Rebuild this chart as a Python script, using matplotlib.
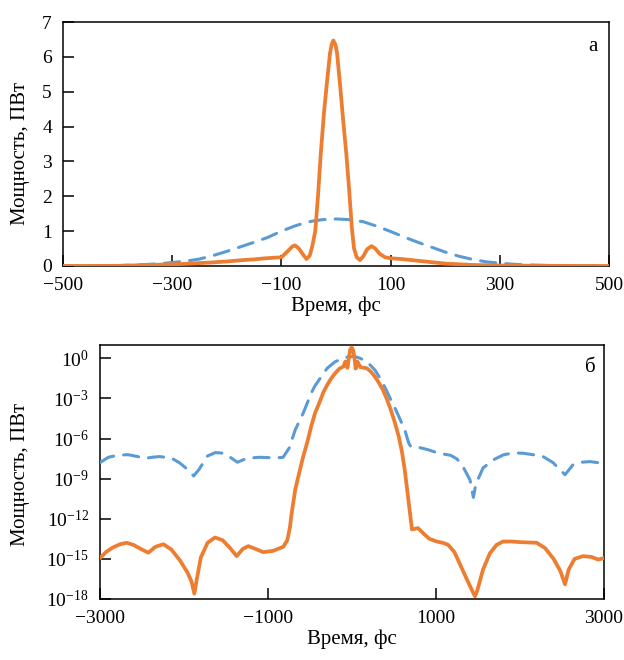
# two-panel pulse power plot: linear (a) and log (б) scale
import matplotlib
matplotlib.use("Agg")
import matplotlib.pyplot as plt
from matplotlib.ticker import NullLocator, FixedLocator

plt.rcParams['font.family'] = ['Liberation Serif', 'DejaVu Serif']
plt.rcParams['mathtext.fontset'] = 'custom'
plt.rcParams['mathtext.rm'] = 'Liberation Serif'
plt.rcParams['mathtext.it'] = 'Liberation Serif:italic'

orange = '#ED7D31'
blue = '#5B9BD5'

# panel a, linear scale (fs, PW)
t_lin_orange = [-500, -400, -340, -280, -230, -200, -170, -150, -130, -110, -100, -90,
                -80, -75, -68, -60, -54, -48, -43, -38, -33, -28, -22, -17, -11, -8,
                -5, -1, 2, 8, 13, 19, 24, 29, 33, 38, 44, 50, 57, 65, 72, 80, 90,
                100, 120, 150, 200, 250, 300, 400, 500]
p_lin_orange = [0, 0.005, 0.03, 0.06, 0.1, 0.13, 0.17, 0.19, 0.22, 0.24, 0.25, 0.4,
                0.56, 0.59, 0.5, 0.32, 0.2, 0.3, 0.6, 1.0, 2.0, 3.2, 4.4, 5.2, 6.1, 6.35,
                6.47, 6.35, 6.1, 5.1, 4.2, 3.2, 2.2, 1.1, 0.5, 0.25, 0.17, 0.28, 0.48,
                0.57, 0.5, 0.35, 0.25, 0.22, 0.2, 0.15, 0.07, 0.03, 0.015, 0.005, 0]

t_lin_blue = [-500, -450, -400, -350, -320, -300, -275, -250, -225, -200, -175, -150,
              -125, -100, -75, -50, -25, 0, 25, 50, 75, 100, 125, 150, 175, 200, 225,
              250, 275, 300, 325, 350, 400, 450, 500]
p_lin_blue = [0, 0.003, 0.01, 0.04, 0.07, 0.1, 0.14, 0.2, 0.3, 0.42, 0.55, 0.68,
              0.82, 1.0, 1.15, 1.27, 1.33, 1.35, 1.33, 1.27, 1.14, 0.99, 0.83, 0.68,
              0.54, 0.4, 0.28, 0.19, 0.12, 0.08, 0.05, 0.03, 0.01, 0.003, 0]

# panel б, log scale
t_log_orange = [-3000, -2930, -2850, -2760, -2683, -2600, -2500, -2425, -2340, -2246,
                -2150, -2050, -1960, -1910, -1877, -1850, -1800, -1720, -1631, -1540,
                -1450, -1373, -1300, -1234, -1150, -1056, -940, -818, -770, -738, -723,
                -676, -630, -581, -530, -486, -440, -391, -340, -296, -250, -201, -150,
                -100, -90, -78, -54, -38, -22, -5, 13, 29, 44, 65, 100, 178, 225, 273,
                320, 368, 415, 462, 510, 557, 595, 628, 676, 714, 750, 786, 850, 920,
                1008, 1080, 1143, 1220, 1300, 1380, 1440, 1464, 1490, 1560, 1640, 1720,
                1798, 1900, 2000, 2199, 2300, 2400, 2480, 2536, 2580, 2650, 2750, 2850,
                2930, 3000]
p_log_orange = [1.15e-15, 3.2e-15, 7e-15, 1.25e-14, 1.6e-14, 1.1e-14, 5e-15, 2.9e-15,
                8e-15, 1.25e-14, 5e-15, 8e-16, 1e-16, 2e-17, 2.5e-18, 2.5e-17, 1.25e-15,
                1.6e-14, 4e-14, 2.5e-14, 6.3e-15, 1.6e-15, 5.6e-15, 9e-15, 5.6e-15,
                3.2e-15, 4e-15, 8e-15, 2.5e-14, 2.5e-13, 1.6e-12, 1.5e-10, 2.5e-9, 4.5e-8,
                6e-7, 8e-6, 8e-5, 4.4e-4, 3e-3, 1e-2, 3e-2, 7.6e-2, 0.17, 0.25, 0.4, 0.58,
                0.2, 1.0, 4.4, 6.47, 4.2, 1.1, 0.17, 0.57, 0.22, 0.18, 0.1, 4.3e-2,
                1.5e-2, 4.4e-3, 9e-4, 1.4e-4, 1.6e-5, 1.4e-6, 1e-7, 4.6e-9, 1.5e-11,
                1.6e-13, 1.8e-13, 2e-13, 8e-14, 3.2e-14, 2e-14, 1.6e-14, 1.15e-14,
                3.2e-15, 2.5e-16, 2e-17, 3.2e-18, 1.6e-18, 4e-18, 1.6e-16, 2.5e-15,
                1.1e-14, 2e-14, 2e-14, 1.8e-14, 1.6e-14, 6.3e-15, 1e-15, 1.25e-16,
                1.25e-17, 1.6e-16, 1e-15, 1.6e-15, 1.4e-15, 9e-16, 1.15e-15]

t_log_blue = [-3000, -2900, -2800, -2670, -2550, -2480, -2380, -2290, -2150, -2050,
              -1950, -1885, -1820, -1720, -1625, -1530, -1450, -1364, -1250, -1100,
              -900, -820, -747, -676, -630, -581, -530, -486, -440, -391, -296, -201,
              -107, -50, 0, 50, 100, 178, 273, 320, 368, 415, 462, 510, 557, 628, 676,
              700, 794, 900, 1032, 1174, 1250, 1321, 1405, 1445, 1475, 1560, 1679,
              1800, 1917, 2036, 2150, 2274, 2393, 2470, 2536, 2631, 2733, 2833, 2920,
              3000]
p_log_blue = [1.6e-8, 4e-8, 5.5e-8, 6.3e-8, 4.5e-8, 3.2e-8, 4e-8, 4.5e-8, 3.5e-8, 1.5e-8,
              4.5e-9, 1.6e-9, 5e-9, 5e-8, 9e-8, 8e-8, 4e-8, 1.7e-8, 3.4e-8, 4e-8,
              3.6e-8, 4e-8, 2e-7, 4.5e-6, 1.8e-5, 8e-5, 5e-4, 2.5e-3, 9e-3, 2.5e-2, 0.18,
              0.56, 1.0, 1.27, 1.35, 1.27, 0.99, 0.56, 0.135, 4.5e-2, 1.35e-2, 3.5e-3,
              8e-4, 2e-4, 4.5e-5, 4.5e-6, 4.5e-7, 2.5e-7, 2.2e-7, 1.5e-7, 8e-8, 5.6e-8,
              3e-8, 8e-9, 8e-10, 4e-11, 4e-10, 6.3e-9, 2.5e-8, 6e-8, 8.5e-8, 8e-8, 6.3e-8,
              4.5e-8, 1.6e-8, 5e-9, 2e-9, 1.1e-8, 1.7e-8, 1.9e-8, 1.6e-8, 1.6e-8]

fig = plt.figure(figsize=(6.24, 6.6), dpi=100)
ax1 = fig.add_axes([63 / 624, 1 - 266 / 660, 546 / 624, 244 / 660])
ax2 = fig.add_axes([100 / 624, 1 - 599 / 660, 504 / 624, 254 / 660])

line_kw = dict(solid_joinstyle='round', solid_capstyle='round', dash_capstyle='round')

# panel a
ax1.plot(t_lin_blue, p_lin_blue, color=blue, lw=2.2, dashes=(5, 3.3), zorder=3, **line_kw)
ax1.plot(t_lin_orange, p_lin_orange, color=orange, lw=2.7, zorder=4, **line_kw)
ax1.set_xlim(-500, 500)
ax1.set_ylim(0, 7)
ax1.xaxis.set_major_locator(FixedLocator([-500, -300, -100, 100, 300, 500]))
ax1.yaxis.set_major_locator(FixedLocator(range(0, 8)))
ax1.text(0.97, 0.9, 'а', transform=ax1.transAxes, ha='center', va='center', fontsize=15)

# panel б
ax2.plot(t_log_blue, p_log_blue, color=blue, lw=2.2, dashes=(5, 3.3), zorder=3, **line_kw)
ax2.plot(t_log_orange, p_log_orange, color=orange, lw=2.7, zorder=4, **line_kw)
ax2.set_yscale('log')
ax2.set_xlim(-3000, 3000)
ax2.set_ylim(1e-18, 10)
ax2.xaxis.set_major_locator(FixedLocator([-3000, -1000, 1000, 3000]))
ax2.yaxis.set_major_locator(FixedLocator([1e-18, 1e-15, 1e-12, 1e-9, 1e-6, 1e-3, 1e0]))
ax2.yaxis.set_minor_locator(NullLocator())
ax2.text(0.972, 0.91, 'б', transform=ax2.transAxes, ha='center', va='center', fontsize=15)

for ax in (ax1, ax2):
    ax.tick_params(direction='in', length=8, width=1.1, labelsize=14, pad=8)
    for s in ax.spines.values():
        s.set_linewidth(1.1)
    ax.set_xlabel('Время, фс', fontsize=15, labelpad=2)
    ax.set_ylabel('Мощность, ПВт', fontsize=15)

ax1.yaxis.set_label_coords(-0.06, 0.46)
ax2.yaxis.set_label_coords(-0.139, 0.49)

fig.savefig('out.png', dpi=100)
